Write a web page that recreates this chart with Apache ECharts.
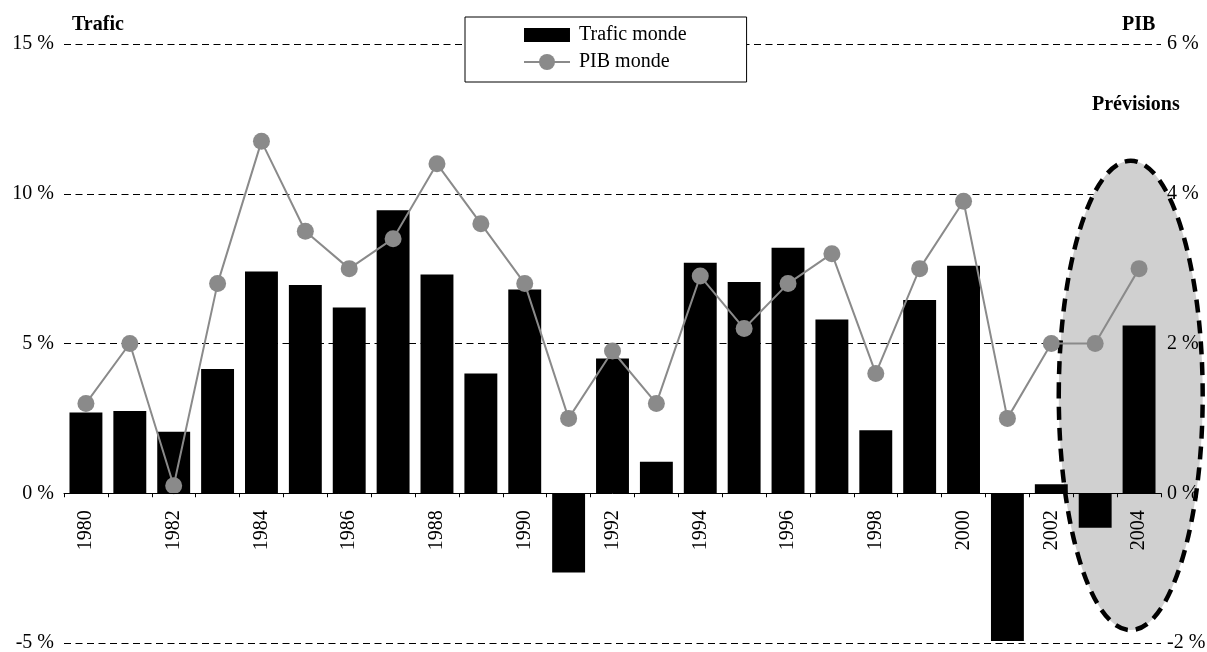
<!DOCTYPE html>
<html>
<head>
<meta charset="utf-8">
<script src="https://cdn.jsdelivr.net/npm/echarts@6/dist/echarts.min.js"></script>
<style>
  html, body { margin: 0; padding: 0; background: #fff; }
  #chart { width: 1207px; height: 652px; }
</style>
</head>
<body>
<div id="chart"></div>
<script>
// Years on the category axis
const years = ['1980','1981','1982','1983','1984','1985','1986','1987','1988','1989',
  '1990','1991','1992','1993','1994','1995','1996','1997','1998','1999',
  '2000','2001','2002','2003','2004'];

// World traffic growth, % (left axis)
const traficMonde = [2.7, 2.75, 2.05, 4.15, 7.4, 6.95, 6.2, 9.45, 7.3, 4.0,
  6.8, -2.65, 4.5, 1.05, 7.7, 7.05, 8.2, 5.8, 2.1, 6.45,
  7.6, -4.93, 0.3, -1.15, 5.6];

// World GDP growth, % (right axis)
const pibMonde = [1.2, 2.0, 0.1, 2.8, 4.7, 3.5, 3.0, 3.4, 4.4, 3.6,
  2.8, 1.0, 1.9, 1.2, 2.9, 2.2, 2.8, 3.2, 1.6, 3.0,
  3.9, 1.0, 2.0, 2.0, 3.0];

// Axis ranges
const traficAxis = { min: -5, max: 15, interval: 5 };
const pibAxis = { min: -2, max: 6, interval: 2 };

// Forecast zone, in category-index units (x) and left-axis values (y)
const forecastZone = { xFrom: 22.17, xTo: 25.45, yFrom: -4.57, yTo: 11.1 };

const FONT = "'Liberation Serif', 'Times New Roman', serif";

// Bar legend icon: a 46x14 block centred in a 20px-high box
const barIcon = 'path://M0,3h46v14h-46z M0,0h0.01v0.01h-0.01z M0,20h0.01v0.01h-0.01z';

const chart = echarts.init(document.getElementById('chart'), null, { renderer: 'canvas' });

const option = {
  animation: false,
  backgroundColor: '#fff',
  textStyle: { fontFamily: FONT, color: '#000' },
  grid: { left: 64, right: 46, top: 44, bottom: 9, containLabel: false, outerBoundsMode: 'none' },
  legend: {
    orient: 'vertical',
    left: 465,
    top: 17,
    padding: [8, 60, 10, 58],
    itemGap: 7,
    itemWidth: 46,
    itemHeight: 20,
    borderColor: '#000',
    borderWidth: 1,
    backgroundColor: '#fff',
    textStyle: { fontFamily: FONT, fontSize: 20, color: '#000', padding: [0, 0, 0, 4] },
    data: [
      { name: 'Trafic monde', icon: barIcon },
      { name: 'PIB monde' }
    ]
  },
  xAxis: [
    {
      // axis line at zero with ticks between categories
      type: 'category',
      data: years,
      boundaryGap: true,
      z: 5,
      axisLine: { onZero: true, lineStyle: { color: '#000', width: 1 } },
      axisTick: { show: true, interval: 0, length: 4, lineStyle: { color: '#000' } },
      axisLabel: { show: false },
      splitLine: { show: false }
    },
    {
      // year labels, shifted up to sit just under the zero line
      type: 'category',
      data: years,
      boundaryGap: true,
      position: 'bottom',
      offset: 0,
      z: 5,
      axisLine: { show: false, onZero: false },
      axisTick: { show: false },
      axisLabel: {
        interval: 1,
        rotate: 90,
        margin: 17,
        fontFamily: FONT,
        fontSize: 20,
        color: '#000'
      },
      splitLine: { show: false }
    }
  ],
  yAxis: [
    {
      type: 'value',
      position: 'left',
      min: traficAxis.min,
      max: traficAxis.max,
      interval: traficAxis.interval,
      z: 0,
      axisLine: { show: false },
      axisTick: { show: false },
      axisLabel: { formatter: '{value} %', margin: 10, fontFamily: FONT, fontSize: 20, color: '#000' },
      splitLine: { show: true, lineStyle: { color: '#000', width: 1, type: [7, 4.5] } }
    },
    {
      type: 'value',
      position: 'right',
      min: pibAxis.min,
      max: pibAxis.max,
      interval: pibAxis.interval,
      z: 5,
      axisLine: { show: false },
      axisTick: { show: false },
      axisLabel: { formatter: '{value} %', margin: 6, fontFamily: FONT, fontSize: 20, color: '#000' },
      splitLine: { show: false }
    }
  ],
  series: [
    {
      name: 'Trafic monde',
      type: 'bar',
      xAxisIndex: 0,
      yAxisIndex: 0,
      data: traficMonde,
      barCategoryGap: '25%',
      itemStyle: { color: '#000' },
      z: 2
    },
    {
      name: 'PIB monde',
      type: 'line',
      xAxisIndex: 0,
      yAxisIndex: 1,
      data: pibMonde,
      symbol: 'circle',
      symbolSize: 17,
      lineStyle: { color: '#8a8a8a', width: 2 },
      itemStyle: { color: '#8a8a8a' },
      z: 3
    }
  ]
};

chart.setOption(option);

function titleText(id, text, x, y) {
  return {
    id: id,
    type: 'text',
    z: 10,
    style: {
      text: text, x: x, y: y,
      font: 'bold 20px ' + FONT,
      fill: '#000',
      verticalAlign: 'middle',
      align: 'left'
    }
  };
}

// Once the axes are laid out: lift the year labels to the zero line,
// place the forecast ellipse and the axis titles
function drawOverlay() {
  const yZero = chart.convertToPixel({ yAxisIndex: 0 }, 0);
  const yMin = chart.convertToPixel({ yAxisIndex: 0 }, traficAxis.min);

  const p0 = chart.convertToPixel({ xAxisIndex: 0 }, 0);
  const p1 = chart.convertToPixel({ xAxisIndex: 0 }, 1);
  const step = p1 - p0;
  const xl = p0 + forecastZone.xFrom * step;
  const xr = p0 + forecastZone.xTo * step;
  const yt = chart.convertToPixel({ yAxisIndex: 0 }, forecastZone.yTo);
  const yb = chart.convertToPixel({ yAxisIndex: 0 }, forecastZone.yFrom);

  chart.setOption({
    xAxis: [{}, { offset: yZero - yMin }],
    graphic: [
      {
        id: 'forecast',
        type: 'ellipse',
        z: 1,
        silent: true,
        shape: { cx: (xl + xr) / 2, cy: (yt + yb) / 2, rx: (xr - xl) / 2, ry: (yb - yt) / 2 },
        style: { fill: '#d0d0d0', stroke: '#000', lineWidth: 4.5, lineDash: [13, 8] }
      },
      titleText('t1', 'Trafic', 72, 25),
      titleText('t2', 'PIB', 1122, 25),
      titleText('t3', 'Prévisions', 1092, 105)
    ]
  });
}
drawOverlay();
</script>
</body>
</html>
